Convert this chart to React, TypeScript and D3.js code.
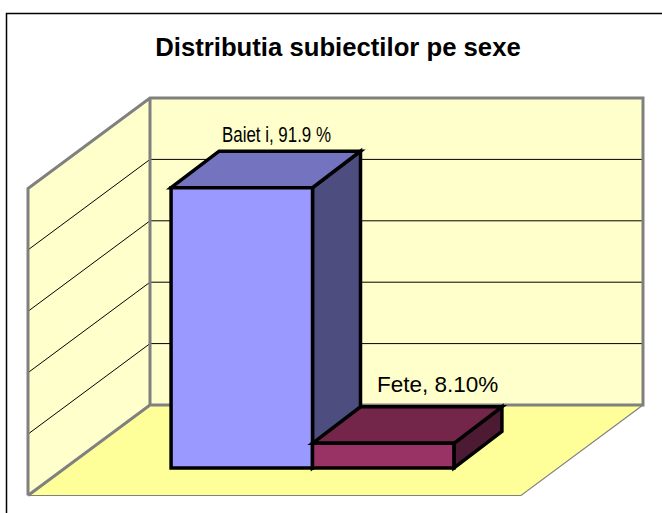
import React, { useEffect, useRef } from 'react';
import { line, scaleBand, scaleLinear, select, range } from 'd3';

const categories = ['Baieti', 'Fete'];
const values = [91.9, 8.1];
const labels = ['Baiet i, 91.9 %', 'Fete, 8.10%'];
const gridTicks = [0, 20, 40, 60, 80, 100];

const frontFaces = ['#9999ff', '#993366'];
const topFaces = ['#7373bf', '#732649'];
const sideFaces = ['#4d4d7f', '#4d1a33'];

const width = 662;
const height = 513;

// perspective offset, front of the box to the back wall
const wallDx = 122;
const wallDy = -90.5;
const barDx = 48;
const barDy = -36.5;

const App = () => {
  const ref = useRef<SVGSVGElement>(null);

  useEffect(() => {
    const svg = select(ref.current);
    svg.selectAll('*').remove();

    const y = scaleLinear().domain([0, 100]).range([405, 98]);
    const x = scaleBand<string>()
      .domain(categories)
      .range([65, 560])
      .paddingInner(0)
      .paddingOuter(0.75);

    const wallLeft = 150;
    const wallRight = 643;
    const path = line();
    const poly = (pts: [number, number][]) => path(pts) + 'Z';

    // chart frame
    svg.append('rect')
      .attr('x', 6.5).attr('y', 13.5)
      .attr('width', 670).attr('height', 520)
      .attr('fill', 'white').attr('stroke', 'black').attr('stroke-width', 1.5);

    svg.append('text')
      .attr('x', 338).attr('y', 56)
      .attr('text-anchor', 'middle')
      .style('font-family', 'Liberation Sans')
      .style('font-size', '25.7px')
      .style('font-weight', 'bold')
      .text('Distributia subiectilor pe sexe');

    // floor
    svg.append('path')
      .attr('d', poly([
        [wallLeft, y(0)], [wallRight, y(0)],
        [wallRight - wallDx, y(0) - wallDy], [wallLeft - wallDx, y(0) - wallDy],
      ]))
      .attr('fill', '#ffff99');
    svg.append('path')
      .attr('d', path([
        [wallRight, y(0)],
        [wallRight - wallDx, y(0) - wallDy],
        [wallLeft - wallDx, y(0) - wallDy],
      ]))
      .attr('fill', 'none').attr('stroke', '#808080').attr('stroke-width', 1.2);

    // walls
    svg.append('path')
      .attr('d', poly([
        [wallLeft, y(100)], [wallRight, y(100)], [wallRight, y(0)], [wallLeft, y(0)],
      ]))
      .attr('fill', '#ffffcc');
    svg.append('path')
      .attr('d', poly([
        [wallLeft, y(100)], [wallLeft, y(0)],
        [wallLeft - wallDx, y(0) - wallDy], [wallLeft - wallDx, y(100) - wallDy],
      ]))
      .attr('fill', '#ffffcc');

    // gridlines
    const inner = gridTicks.slice(1, -1);
    svg.append('g').selectAll('path')
      .data(inner)
      .join('path')
      .attr('d', d => path([
        [wallLeft - wallDx, y(d) - wallDy],
        [wallLeft, y(d)],
        [wallRight, y(d)],
      ]))
      .attr('fill', 'none').attr('stroke', 'black').attr('stroke-width', 1);

    // wall outlines
    svg.append('path')
      .attr('d', path([
        [wallLeft - wallDx, y(0) - wallDy],
        [wallLeft - wallDx, y(100) - wallDy],
        [wallLeft, y(100)],
        [wallRight, y(100)],
        [wallRight, y(0)],
        [wallLeft, y(0)],
        [wallLeft - wallDx, y(0) - wallDy],
      ]))
      .attr('fill', 'none').attr('stroke', '#808080').attr('stroke-width', 3);
    svg.append('line')
      .attr('x1', wallLeft).attr('x2', wallLeft)
      .attr('y1', y(100)).attr('y2', y(0))
      .attr('stroke', '#808080').attr('stroke-width', 3);

    // bars, standing on the floor in front of the wall
    const base = 468;
    const bw = x.bandwidth();
    const barH = scaleLinear().domain([0, 100]).range([0, 305]);

    const bars = svg.append('g')
      .attr('stroke', 'black').attr('stroke-width', 3.5).attr('stroke-linejoin', 'miter');
    range(categories.length).forEach(i => {
      const x0 = x(categories[i]) as number;
      const x1 = x0 + bw;
      const top = base - barH(values[i]);
      const g = bars.append('g');
      g.append('path')
        .attr('d', poly([[x1, top], [x1 + barDx, top + barDy], [x1 + barDx, base + barDy], [x1, base]]))
        .attr('fill', sideFaces[i]);
      g.append('path')
        .attr('d', poly([[x0, top], [x0 + barDx, top + barDy], [x1 + barDx, top + barDy], [x1, top]]))
        .attr('fill', topFaces[i]);
      g.append('path')
        .attr('d', poly([[x0, top], [x1, top], [x1, base], [x0, base]]))
        .attr('fill', frontFaces[i]);
    });

    // data labels
    svg.append('text')
      .attr('x', 276.5).attr('y', 142)
      .attr('text-anchor', 'middle')
      .attr('textLength', 109).attr('lengthAdjust', 'spacingAndGlyphs')
      .style('font-family', 'Liberation Sans')
      .style('font-size', '22px')
      .text(labels[0]);
    svg.append('text')
      .attr('x', 377).attr('y', 392)
      .style('font-family', 'Liberation Sans')
      .style('font-size', '22.5px')
      .text(labels[1]);
  }, []);

  return (
    <svg
      ref={ref}
      width={width}
      height={height}
      style={{ position: 'absolute', left: 0, top: 0, display: 'block' }}
    />
  );
};

export default App;
